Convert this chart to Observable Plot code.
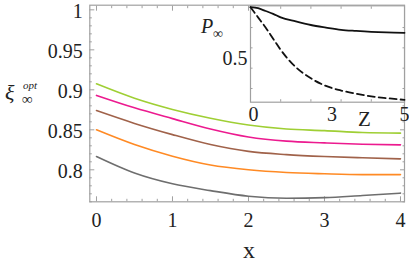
<!DOCTYPE html>
<html><head><meta charset="utf-8">
<script src="https://cdn.jsdelivr.net/npm/d3@7"></script>
<script src="https://cdn.jsdelivr.net/npm/@observablehq/plot@0.6"></script>
<style>
body{margin:0;background:#fff;}
#wrap{position:relative;width:409px;height:262px;font-family:'Liberation Serif';}
#wrap svg{position:absolute;max-width:none;}
</style></head><body><div id="wrap"></div>
<script>
// Main chart data
const xValues = [0, 0.5, 1, 1.5, 2, 2.5, 3, 3.5, 4];
const seriesNames = ["s1", "s2", "s3", "s4", "s5"];
const greenSeries   = [0.9075, 0.8895, 0.8755, 0.8645, 0.8560, 0.8510, 0.8490, 0.8466, 0.8458];
const magentaSeries = [0.8930, 0.8775, 0.8640, 0.8510, 0.8410, 0.8358, 0.8337, 0.8320, 0.8312];
const brownSeries   = [0.8740, 0.8580, 0.8440, 0.8316, 0.8230, 0.8190, 0.8166, 0.8150, 0.8137];
const orangeSeries  = [0.8500, 0.8316, 0.8170, 0.8060, 0.8000, 0.7966, 0.7950, 0.7940, 0.7940];
const graySeries    = [0.8166, 0.7960, 0.7825, 0.7740, 0.7670, 0.7645, 0.7652, 0.7679, 0.7708];
const seriesColors = ["#9fcf34", "#ec1a8f", "#a0624a", "#ff8a24", "#6e6e6e"];
const xTickValues = [0, 1, 2, 3, 4];
const xTickLabels = ["0", "1", "2", "3", "4"];
const yTickValues = [0.8, 0.85, 0.9, 0.95, 1];
const yTickLabels = ["0.8", "0.85", "0.9", "0.95", "1"];

// Inset data
const zValues = [0, 0.25, 0.5, 0.75, 1, 1.5, 2, 2.5, 3, 3.5, 4, 4.5, 5.1];
const solidP  = [1, 0.99, 0.963, 0.935, 0.90, 0.86, 0.825, 0.80, 0.778, 0.767, 0.758, 0.752, 0.748];
const dashedP = [1, 0.90, 0.80, 0.69, 0.58, 0.41, 0.30, 0.225, 0.18, 0.148, 0.122, 0.105, 0.088];
const insetXTickValues = [0, 2.6, 5];
const insetXTickLabels = ["0", "3", "5"];
const insetYTickValues = [0.5];
const insetYTickLabels = ["0.5"];

const serif = "Liberation Serif";
const frameColor = "#a0a0a0";
const textColor = "#222";

const allSeries = [greenSeries, magentaSeries, brownSeries, orangeSeries, graySeries];
const rows = [];
allSeries.forEach((s, i) => xValues.forEach((x, j) => rows.push({x, y: s[j], k: seriesNames[i]})));

const xMinor = d3.range(0, 41, 2).map(d => d / 10).filter(d => !xTickValues.includes(d));
const yMinor = d3.range(76, 101).map(d => d / 100).filter(d => !yTickValues.some(t => Math.abs(t - d) < 1e-9));
const fmt = (vals, labs) => d => labs[vals.findIndex(v => Math.abs(v - d) < 1e-9)];
const blank = () => "";

const main = Plot.plot({
  width: 409, height: 262,
  marginLeft: 89.3, marginRight: 5, marginTop: 4.7, marginBottom: 60.7,
  x: {domain: [-0.088, 4.053]},
  y: {domain: [0.76, 1.0058]},
  color: {domain: seriesNames, range: seriesColors},
  style: {fontSize: "20px", background: "transparent", color: textColor},
  marks: [
    Plot.frame({stroke: frameColor, strokeWidth: 1.2}),
    Plot.axisX(xTickValues, {anchor: "bottom", tickSize: -5, tickFormat: blank, label: null, stroke: frameColor}),
    Plot.axisX(xMinor, {anchor: "bottom", tickSize: -2.5, tickFormat: blank, label: null, stroke: frameColor}),
    Plot.axisX(xTickValues, {anchor: "top", tickSize: -5, tickFormat: blank, label: null, stroke: frameColor}),
    Plot.axisX(xMinor, {anchor: "top", tickSize: -2.5, tickFormat: blank, label: null, stroke: frameColor}),
    Plot.axisY(yTickValues, {anchor: "left", tickSize: -5, tickFormat: blank, label: null, stroke: frameColor}),
    Plot.axisY(yMinor, {anchor: "left", tickSize: -2.5, tickFormat: blank, label: null, stroke: frameColor}),
    Plot.axisY(yTickValues, {anchor: "right", tickSize: -5, tickFormat: blank, label: null, stroke: frameColor}),
    Plot.axisY(yMinor, {anchor: "right", tickSize: -2.5, tickFormat: blank, label: null, stroke: frameColor}),
    Plot.axisX(xTickValues, {anchor: "bottom", tickSize: 0, tickPadding: 11, tickFormat: fmt(xTickValues, xTickLabels), label: null, fill: textColor, fontSize: 20, fontFamily: serif}),
    Plot.axisY(yTickValues, {anchor: "left", tickSize: 0, tickPadding: 7, dy: 2, tickFormat: fmt(yTickValues, yTickLabels), label: null, fill: textColor, fontSize: 20, fontFamily: serif}),
    Plot.line(rows, {x: "x", y: "y", z: "k", stroke: "k", strokeWidth: 1.6, curve: "monotone-x"})
  ]
});
main.style.left = "0px"; main.style.top = "0px";

const insetRows = zValues.map((z, j) => ({z, p: solidP[j], k: "solid"}));
const dashRows = zValues.map((z, j) => ({z, p: dashedP[j], k: "dashed"}));
const insetYMinor = [0.2, 0.4, 0.6, 0.8];

const inset = Plot.plot({
  width: 214, height: 130,
  marginLeft: 55, marginRight: 5, marginTop: 5.3, marginBottom: 28.3,
  x: {domain: [0, 5.1]},
  y: {domain: [0.065, 1.014]},
  style: {fontSize: "20px", background: "transparent", color: textColor},
  marks: [
    Plot.frame({fill: "white", stroke: frameColor, strokeWidth: 1.2}),
    Plot.axisY(insetYMinor, {anchor: "left", tickSize: -2.5, tickFormat: blank, label: null, stroke: frameColor}),
    Plot.axisY(insetYMinor, {anchor: "right", tickSize: -2.5, tickFormat: blank, label: null, stroke: frameColor}),
    Plot.axisX([1, 2, 3, 4], {anchor: "bottom", tickSize: -2.5, tickFormat: blank, label: null, stroke: frameColor}),
    Plot.axisX([1, 2, 3, 4], {anchor: "top", tickSize: -2.5, tickFormat: blank, label: null, stroke: frameColor}),
    Plot.axisX(insetXTickValues, {anchor: "bottom", tickSize: 0, tickPadding: 4.5, dx: 3, tickFormat: fmt(insetXTickValues, insetXTickLabels), label: null, fill: textColor, fontSize: 20, fontFamily: serif}),
    Plot.axisY(insetYTickValues, {anchor: "left", tickSize: 0, tickPadding: 3, dy: 1, tickFormat: fmt(insetYTickValues, insetYTickLabels), label: null, fill: textColor, fontSize: 20, fontFamily: serif}),
    Plot.line(insetRows, {x: "z", y: "p", stroke: "#111", strokeWidth: 1.8, curve: "monotone-x"}),
    Plot.line(dashRows, {x: "z", y: "p", stroke: "#111", strokeWidth: 1.8, strokeDasharray: "7,4", curve: "monotone-x"})
  ]
});
inset.style.left = "195px"; inset.style.top = "0px";

const wrap = document.getElementById("wrap");
wrap.appendChild(main);
wrap.appendChild(inset);

// Text labels overlay
const svg = d3.select(wrap).append("svg")
  .attr("width", 409).attr("height", 262)
  .style("left", "0px").style("top", "0px")
  .attr("fill", textColor);
const addText = (x, y, size, italic, anchor, str) => svg.append("text")
  .attr("x", x).attr("y", y).attr("font-size", size)
  .attr("font-family", serif)
  .attr("font-style", italic ? "italic" : "normal")
  .attr("text-anchor", anchor).text(str);
addText(5, 100, 22, true, "start", "ξ");
addText(23, 89, 11, true, "start", "opt");
addText(22, 104, 15, false, "start", "∞");
addText(249, 258, 24, false, "middle", "x");
addText(201, 33, 20, true, "start", "P");
addText(213, 38, 14, false, "start", "∞");
addText(364.5, 126, 21, false, "middle", "Z");
</script></body></html>
